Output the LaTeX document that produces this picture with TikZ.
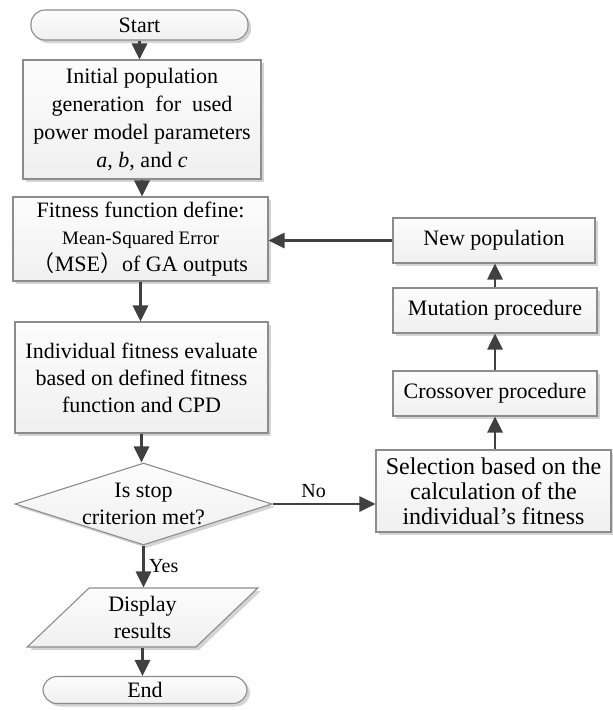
\documentclass[tikz,border=0pt]{standalone}
\usepackage{fontspec}
\setmainfont{Liberation Serif}
\newfontfamily\cjkfont{Noto Sans CJK SC}
\usetikzlibrary{shapes.geometric,shadows,arrows.meta}
\definecolor{boxline}{RGB}{140,140,140}
\definecolor{arrowgray}{RGB}{64,64,64}
\definecolor{shadowgray}{RGB}{212,212,212}

\begin{document}
\begin{tikzpicture}[x=1pt,y=-1pt,
  font=\fontsize{22}{27}\selectfont,
  box/.style={draw=boxline, line width=1.1pt, top color=gray!2, bottom color=gray!12,
    drop shadow={shadow xshift=3pt, shadow yshift=-3pt, fill=shadowgray, opacity=1},
    align=center, inner sep=0pt},
  term/.style={box, rounded corners=14pt},
  decision/.style={box, diamond, aspect=3.1},
  io/.style={box, trapezium, trapezium left angle=47, trapezium right angle=133,
    trapezium stretches=true},
  arr/.style={draw=arrowgray, line width=2.8pt, -{Triangle[length=16pt,width=15pt]}},
  ]

  \useasboundingbox (0,0) rectangle (613,710);

  % Main column.
  \node[term, minimum width=217, minimum height=30] (start) at (139.5,25) {Start};
  \node[box, minimum width=238, minimum height=119, font=\fontsize{22}{28}\selectfont]
    (init) at (142,119.5)
    {Initial population\\generation \ for \ used\\power model parameters\\\textit{a}, \textit{b}, and \textit{c}};
  \node[box, minimum width=255, minimum height=84] (fit) at (140.5,239)
    {Fitness function define:\\{\fontsize{19}{24}\selectfont Mean-Squared Error}\\{\cjkfont （}MSE{\cjkfont ）}of GA outputs};
  \node[box, minimum width=253, minimum height=111] (indiv) at (141.5,377.5)
    {Individual fitness evaluate\\based on defined fitness\\function and CPD};
  \node[decision, minimum width=257, minimum height=82] (stop) at (143.5,504)
    {Is stop\\criterion met?};
  \node[io, minimum width=231, minimum height=59] (disp) at (142.5,617.5) {Display\\results};
  \node[term, minimum width=204, minimum height=27] (end) at (145,690) {End};

  % Loop column.
  \node[box, minimum width=202, minimum height=45] (newpop) at (494,240.5) {New population};
  \node[box, minimum width=204, minimum height=45] (mut) at (495,310.5) {Mutation procedure};
  \node[box, minimum width=204, minimum height=45] (cross) at (495,393.5) {Crossover procedure};
  \node[box, minimum width=235, minimum height=82, font=\fontsize{24}{25}\selectfont]
    (sel) at (493.5,491)
    {Selection based on the\\calculation of the\\individual’s fitness};

  % Flow arrows.
  \draw[arr] (start.south) -- (start.south |- init.north);
  \draw[arr] (init.south) -- (init.south |- fit.north);
  \draw[arr] (fit.south) -- (fit.south |- indiv.north);
  \draw[arr] (indiv.south) -- (indiv.south |- stop.north);
  \draw[arr] (stop.south) -- node[right=1pt, font=\fontsize{20}{24}\selectfont] {Yes} (stop.south |- disp.north);
  \draw[arr] (disp.south) -- (disp.south |- end.north);
  \draw[arr] (stop.east) -- node[above=2pt, pos=0.4, font=\fontsize{20}{24}\selectfont] {No} (stop.east -| sel.west);
  \draw[arr] (cross.south |- sel.north) -- (cross.south);
  \draw[arr] (cross.north) -- (mut.south);
  \draw[arr] (mut.north) -- (mut.north |- newpop.south);
  \draw[arr] (newpop.west) -- (newpop.west -| fit.east);

\end{tikzpicture}
\end{document}
